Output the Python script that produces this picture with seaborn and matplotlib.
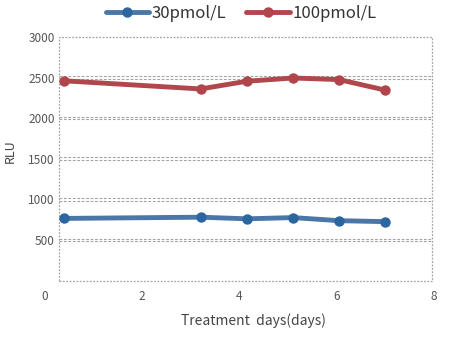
import matplotlib
matplotlib.use("Agg")
import matplotlib.pyplot as plt
import seaborn as sns
import numpy as np

sns.set_style("white")
plt.rcParams['font.family'] = ['Noto Sans CJK SC', 'DejaVu Sans']

days = [0.4, 3.2, 4.15, 5.1, 6.05, 7.0]
rlu_30 = [765, 780, 760, 775, 737, 725]
rlu_100 = [2460, 2360, 2455, 2495, 2475, 2345]
series_names = ["30pmol/L", "100pmol/L"]
x_ticks = [0, 2, 4, 6, 8]
y_ticks = [500, 1000, 1500, 2000, 2500, 3000]

fig = plt.figure(figsize=(4.54, 3.38), dpi=100)
ax = fig.add_axes([45/454, 1 - 280.5/338, 389/454, 243.5/338])
ax.set_xlim(0, 8)
ax.set_ylim(0, 3000)
for s in ax.spines.values():
    s.set_visible(False)

x0, x1 = 0.29, 7.96
grid_c = "#a4a4a4"
# border
ax.plot([x0, x1, x1, x0, x0], [0, 0, 3000, 3000, 0], color=grid_c, lw=0.9,
        linestyle=(0, (1.5, 1.2)), zorder=1, clip_on=False)
for v in y_ticks[:-1]:
    for off in (-16, 16):
        ax.plot([x0, x1], [v + off, v + off], color=grid_c, lw=0.8,
                linestyle=(0, (2.5, 1.5)), zorder=1)

sns.lineplot(x=days, y=rlu_30, ax=ax, color="#4a76a8", linewidth=3.5,
             marker='o', markersize=7.5, markerfacecolor="#2b66a0",
             markeredgewidth=0, label=series_names[0], zorder=3)
sns.lineplot(x=days, y=rlu_100, ax=ax, color="#b0474d", linewidth=3.5,
             marker='o', markersize=7.5, markerfacecolor="#b0464c",
             markeredgewidth=0, label=series_names[1], zorder=3)

ax.set_xticks(x_ticks)
ax.set_xticklabels([str(t) for t in x_ticks])
ax.set_yticks(y_ticks)
ax.set_yticklabels([str(t) for t in y_ticks])
ax.tick_params(axis='both', length=0, labelsize=8.5, labelcolor="#555555")
ax.tick_params(axis='x', pad=7)
ax.tick_params(axis='y', pad=-7)

ax.set_xlabel("Treatment  days(days)", fontsize=10, color="#444444")
ax.xaxis.set_label_coords((253 - 45) / 389, -0.135)
ax.set_ylabel("RLU", fontsize=9, color="#444444")
ax.yaxis.set_label_coords(-0.072, 0.53)

leg = ax.legend(loc='center', bbox_to_anchor=((241 - 45) / 389, 1 + 24 / 243.5),
                ncol=2, frameon=False, fontsize=12, handlelength=2.6,
                handletextpad=0.15, columnspacing=1.2, borderaxespad=0)
for t in leg.get_texts():
    t.set_color("#333333")

fig.savefig("out.png", dpi=100)
